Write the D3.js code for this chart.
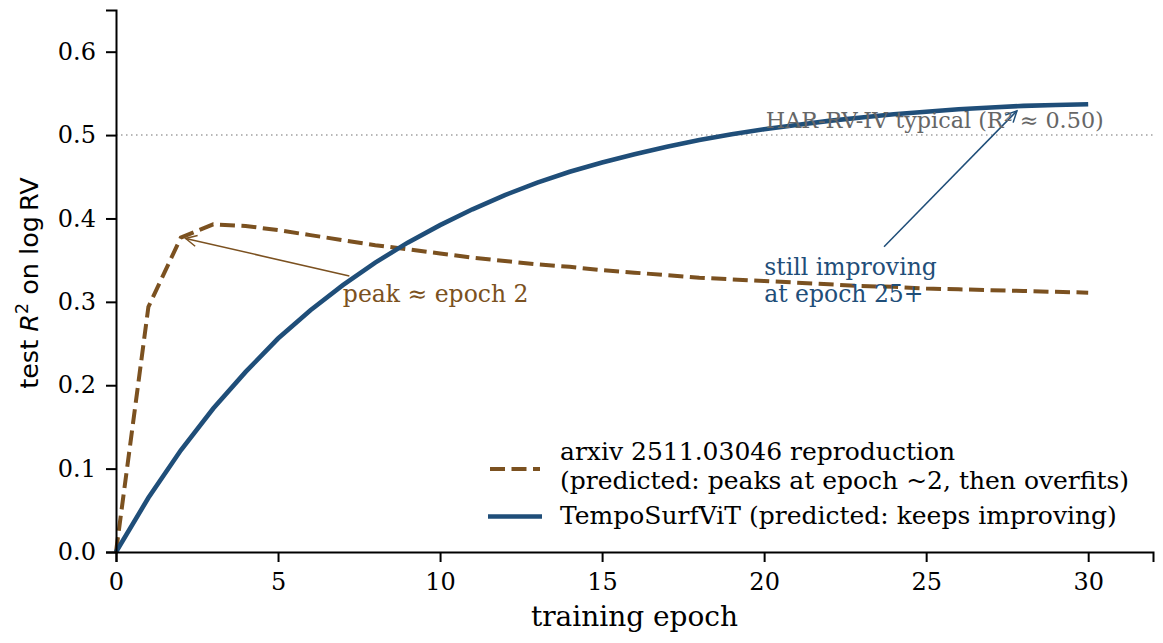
<!DOCTYPE html>
<html><head><meta charset="utf-8">
<script src="https://cdn.jsdelivr.net/npm/d3@7"></script>
<style>body{margin:0;background:#fff}</style>
</head><body>
<script>
const epochs = d3.range(0, 31);
const baselineVals = [0, 0.294, 0.377, 0.393, 0.391, 0.386, 0.380, 0.374, 0.368, 0.363, 0.358, 0.353, 0.349, 0.345, 0.342, 0.338, 0.335, 0.332, 0.329, 0.327, 0.325, 0.323, 0.321, 0.319, 0.318, 0.316, 0.315, 0.314, 0.313, 0.312, 0.311];
const tempoVals = [0, 0.065, 0.122, 0.172, 0.216, 0.256, 0.290, 0.320, 0.347, 0.371, 0.392, 0.411, 0.428, 0.443, 0.456, 0.467, 0.477, 0.486, 0.494, 0.501, 0.507, 0.512, 0.517, 0.521, 0.525, 0.528, 0.531, 0.533, 0.535, 0.536, 0.537];
const xTicks = [0, 5, 10, 15, 20, 25, 30];
const yTicks = [0.0, 0.1, 0.2, 0.3, 0.4, 0.5, 0.6];
const harLevel = 0.5;
const seriesNames = ["arxiv 2511.03046 reproduction", "(predicted: peaks at epoch ~2, then overfits)", "TempoSurfViT (predicted: keeps improving)"];

const W = 1163, H = 643;
const m = {left: 116, right: 10, top: 10, bottom: 91};
const brown = "#7b5120", blue = "#1f4e79";
const serif = "'DejaVu Serif', serif";

const svg = d3.select("body").append("svg").attr("width", W).attr("height", H);
const x = d3.scaleLinear().domain([0, 32]).range([m.left, W - m.right]);
const y = d3.scaleLinear().domain([0, 0.65]).range([H - m.bottom, m.top]);

// HAR reference line
svg.append("line").attr("x1", x(0)).attr("x2", x(32)).attr("y1", y(harLevel)).attr("y2", y(harLevel))
  .attr("stroke", "#a0a0a0").attr("stroke-width", 1.5).attr("stroke-dasharray", "1.5,3.5");

const line = d3.line().x((d, i) => x(epochs[i])).y(d => y(d));
svg.append("path").datum(baselineVals).attr("d", line).attr("fill", "none")
  .attr("stroke", brown).attr("stroke-width", 4).attr("stroke-dasharray", "15,6.5");
svg.append("path").datum(tempoVals).attr("d", line).attr("fill", "none")
  .attr("stroke", blue).attr("stroke-width", 4.6);

// axes
const xAxis = svg.append("g").attr("transform", `translate(0,${y(0)})`)
  .call(d3.axisBottom(x).tickValues(xTicks).tickFormat(d3.format("d")).tickSizeOuter(0).tickSize(10).tickPadding(11));
const yAxis = svg.append("g").attr("transform", `translate(${x(0)},0)`)
  .call(d3.axisLeft(y).tickValues(yTicks).tickFormat(d3.format(".1f")).tickSizeOuter(0).tickSize(10).tickPadding(10));
[xAxis, yAxis].forEach(g => {
  g.selectAll("path.domain").attr("stroke", "#000").attr("stroke-width", 2);
  g.selectAll(".tick line").attr("stroke", "#000").attr("stroke-width", 2);
  g.selectAll("text").attr("font-family", serif).attr("font-size", 24).attr("fill", "#000");
});

svg.append("text").attr("x", (x(0) + x(32)) / 2).attr("y", 626).attr("text-anchor", "middle")
  .attr("font-family", serif).attr("font-size", 28).text("training epoch");

const yl = svg.append("text").attr("transform", `translate(38,283) rotate(-90)`)
  .attr("text-anchor", "middle").attr("font-family", "'DejaVu Sans', sans-serif").attr("font-size", 25.5);
yl.append("tspan").text("test ");
yl.append("tspan").attr("font-style", "italic").text("R");
yl.append("tspan").attr("font-size", 17.5).attr("dy", -10.5).text("2");
yl.append("tspan").attr("dy", 10.5).text(" on log\u2009RV");

// arrow markers
const defs = svg.append("defs");
function marker(id, color) {
  defs.append("marker").attr("id", id).attr("viewBox", "-12 -7 14 14").attr("refX", 0).attr("refY", 0)
    .attr("markerWidth", 14).attr("markerHeight", 14).attr("markerUnits", "userSpaceOnUse").attr("orient", "auto")
    .append("path").attr("d", "M-11,-5.5 L0,0 L-11,5.5").attr("fill", "none").attr("stroke", color).attr("stroke-width", 1.5);
}
marker("arrB", brown); marker("arrL", blue);

// peak annotation
svg.append("line").attr("x1", x(7.2)).attr("y1", y(0.331)).attr("x2", x(2.15)).attr("y2", y(0.376))
  .attr("stroke", brown).attr("stroke-width", 1.5).attr("marker-end", "url(#arrB)");
svg.append("text").attr("x", x(7)).attr("y", y(0.3)).attr("font-family", serif).attr("font-size", 23.5)
  .attr("fill", brown).text("peak \u2248 epoch 2");

// improving annotation
svg.append("line").attr("x1", x(23.7)).attr("y1", y(0.366)).attr("x2", x(27.8)).attr("y2", y(0.529))
  .attr("stroke", blue).attr("stroke-width", 1.5).attr("marker-end", "url(#arrL)");
const t2 = svg.append("text").attr("font-family", serif).attr("font-size", 23.5).attr("fill", blue);
t2.append("tspan").attr("x", x(20)).attr("y", y(0.3) - 27).text("still improving");
t2.append("tspan").attr("x", x(20)).attr("y", y(0.3)).text("at epoch 25+");

// HAR label
svg.append("text").attr("x", x(20.05)).attr("y", y(0.508)).attr("font-family", serif).attr("font-size", 22.3)
  .attr("fill", "#666").text("HAR-RV-IV typical (R\u00b2 \u2248 0.50)");

// legend
const lg = svg.append("g");
lg.append("line").attr("x1", 490).attr("x2", 540).attr("y1", 469).attr("y2", 469)
  .attr("stroke", brown).attr("stroke-width", 4).attr("stroke-dasharray", "15,6.5");
lg.append("line").attr("x1", 488).attr("x2", 542).attr("y1", 516.5).attr("y2", 516.5)
  .attr("stroke", blue).attr("stroke-width", 4.6);
const lt = lg.append("text").attr("font-family", serif).attr("font-size", 25);
lt.append("tspan").attr("x", 560).attr("y", 459.5).text(seriesNames[0]);
lt.append("tspan").attr("x", 560).attr("y", 489).text(seriesNames[1]);
lg.append("text").attr("x", 560).attr("y", 524).attr("font-family", serif).attr("font-size", 25).text(seriesNames[2]);
</script>
</body></html>
